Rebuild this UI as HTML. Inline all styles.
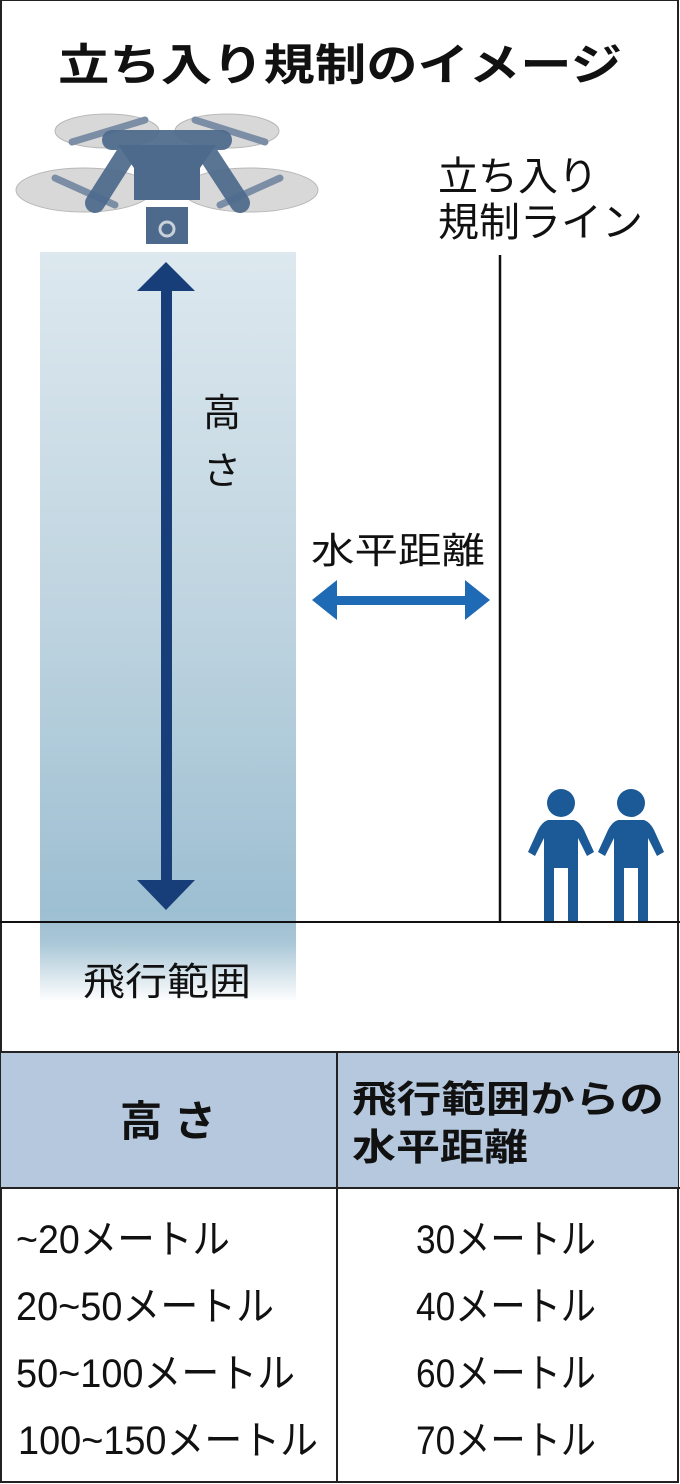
<!DOCTYPE html>
<html><head><meta charset="utf-8"><style>
html,body{margin:0;padding:0;background:#fff}
svg{display:block}
text{font-family:"Liberation Sans","Noto Sans CJK JP",sans-serif;fill:#111}
</style></head><body>
<svg width="680" height="1484" viewBox="0 0 680 1484" xmlns="http://www.w3.org/2000/svg">
<defs>
<linearGradient id="col" x1="0" y1="0" x2="0" y2="1">
<stop offset="0" stop-color="#dde8ef"/>
<stop offset="0.5" stop-color="#bdd3df"/>
<stop offset="0.88" stop-color="#9dbfd2"/>
<stop offset="0.92" stop-color="#a8c6d6"/>
<stop offset="1" stop-color="#ffffff"/>
</linearGradient>
</defs>
<rect x="0" y="0" width="680" height="1484" fill="#fff"/>
<rect x="40" y="252" width="256" height="750" fill="url(#col)"/>
<rect x="1" y="0" width="677" height="1482" fill="none" stroke="#222" stroke-width="2"/>
<text x="340" y="80" font-size="44" font-weight="bold" text-anchor="middle" textLength="564" lengthAdjust="spacingAndGlyphs">立ち入り規制のイメージ</text>
<!-- drone -->
<g>
<ellipse cx="107" cy="131" rx="52" ry="17" fill="#d8d8d8" stroke="#b8b8b8"/>
<ellipse cx="227" cy="131" rx="52" ry="17" fill="#d8d8d8" stroke="#b8b8b8"/>
<ellipse cx="84" cy="190" rx="68" ry="22" fill="#d8d8d8" stroke="#b8b8b8"/>
<ellipse cx="250" cy="190" rx="68" ry="22" fill="#d8d8d8" stroke="#b8b8b8"/>
<g stroke="#7b8ea6" stroke-width="7" stroke-linecap="round">
<line x1="72" y1="142" x2="145" y2="120"/>
<line x1="195" y1="120" x2="265" y2="142"/>
<line x1="55" y1="178" x2="115" y2="205"/>
<line x1="220" y1="205" x2="280" y2="178"/>
</g>
<g stroke="#4d6a8c" stroke-width="20" stroke-linecap="round" opacity="0.92">
<line x1="112" y1="140" x2="222" y2="140"/>
<line x1="130" y1="148" x2="95" y2="203"/>
<line x1="204" y1="148" x2="240" y2="203"/>
</g>
<path d="M118 145 L216 145 L200 168 L200 200 L134 200 L134 168 Z" fill="#4d6a8c"/>
<rect x="146" y="207" width="42" height="37" fill="#4d6a8c"/>
<circle cx="167" cy="229" r="7" fill="none" stroke="#c8d0d8" stroke-width="3"/>
</g>
<!-- vertical arrow -->
<rect x="161" y="290" width="11" height="592" fill="#173e78"/>
<polygon points="166,262 137,291 195,291" fill="#173e78"/>
<polygon points="166,910 137,880 195,880" fill="#173e78"/>
<text x="222" y="426" font-size="38" text-anchor="middle">高</text>
<text x="222" y="484" font-size="38" text-anchor="middle">さ</text>
<!-- regulation line -->
<text x="438" y="190" font-size="40" textLength="160" lengthAdjust="spacingAndGlyphs">立ち入り</text>
<text x="438" y="236" font-size="40" textLength="205" lengthAdjust="spacingAndGlyphs">規制ライン</text>
<line x1="500" y1="255" x2="500" y2="922" stroke="#111" stroke-width="2.5"/>
<!-- horizontal arrow -->
<text x="398" y="563" font-size="36" text-anchor="middle" textLength="174" lengthAdjust="spacingAndGlyphs">水平距離</text>
<rect x="335" y="596" width="132" height="9" fill="#1e6ab4"/>
<polygon points="312,600 337,580 337,620" fill="#1e6ab4"/>
<polygon points="490,600 465,580 465,620" fill="#1e6ab4"/>
<!-- people -->
<g fill="#1b5a96">
<circle cx="561" cy="803" r="14"/>
<path d="M548 820 L574 820 Q580 822 584 830 L594 852 L587 856 L578 838 L578 922 L568 922 L568 868 L554 868 L554 922 L544 922 L544 838 L535 856 L528 852 L538 830 Q542 822 548 820Z"/>
<circle cx="631" cy="803" r="14"/>
<path d="M618 820 L644 820 Q650 822 654 830 L664 852 L657 856 L648 838 L648 922 L638 922 L638 868 L624 868 L624 922 L614 922 L614 838 L605 856 L598 852 L608 830 Q612 822 618 820Z"/>
</g>
<line x1="0" y1="922" x2="680" y2="922" stroke="#111" stroke-width="2"/>
<text x="167" y="995" font-size="38" text-anchor="middle" textLength="168" lengthAdjust="spacingAndGlyphs">飛行範囲</text>
<!-- table -->
<rect x="1" y="1052" width="677" height="136" fill="#b6c8de"/>
<line x1="0" y1="1052" x2="680" y2="1052" stroke="#222" stroke-width="2"/>
<line x1="0" y1="1188" x2="680" y2="1188" stroke="#222" stroke-width="2"/>
<line x1="337" y1="1052" x2="337" y2="1482" stroke="#222" stroke-width="2"/>
<text x="168" y="1136" font-size="42" font-weight="bold" text-anchor="middle" textLength="96" lengthAdjust="spacingAndGlyphs">高 さ</text>
<text x="352" y="1112" font-size="37" font-weight="bold" textLength="312" lengthAdjust="spacingAndGlyphs">飛行範囲からの</text>
<text x="352" y="1160" font-size="37" font-weight="bold" textLength="176" lengthAdjust="spacingAndGlyphs">水平距離</text>
<g font-size="40">
<text x="16" y="1253" textLength="214" lengthAdjust="spacingAndGlyphs">~20メートル</text>
<text x="16" y="1320" textLength="258" lengthAdjust="spacingAndGlyphs">20~50メートル</text>
<text x="16" y="1387" textLength="279" lengthAdjust="spacingAndGlyphs">50~100メートル</text>
<text x="18" y="1454" textLength="300" lengthAdjust="spacingAndGlyphs">100~150メートル</text>
<text x="416" y="1253" textLength="180" lengthAdjust="spacingAndGlyphs">30メートル</text>
<text x="416" y="1320" textLength="180" lengthAdjust="spacingAndGlyphs">40メートル</text>
<text x="416" y="1387" textLength="180" lengthAdjust="spacingAndGlyphs">60メートル</text>
<text x="416" y="1454" textLength="180" lengthAdjust="spacingAndGlyphs">70メートル</text>
</g>
</svg>
</body></html>
